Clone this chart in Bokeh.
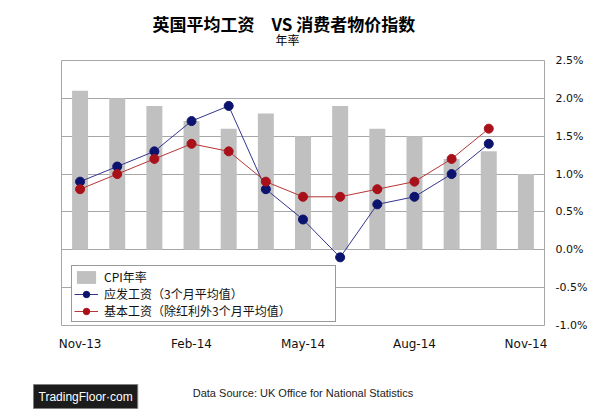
from bokeh.plotting import figure
from bokeh.models import (ColumnDataSource, Legend, LegendItem, FixedTicker,
                          PrintfTickFormatter, Range1d, Title)
from bokeh.embed import file_html
from bokeh.resources import INLINE

# ---- data ----
months = ["Nov-13", "Dec-13", "Jan-14", "Feb-14", "Mar-14", "Apr-14", "May-14",
          "Jun-14", "Jul-14", "Aug-14", "Sep-14", "Oct-14", "Nov-14"]
cpi = [2.1, 2.0, 1.9, 1.7, 1.6, 1.8, 1.5, 1.9, 1.6, 1.5, 1.2, 1.3, 1.0]
total_pay = [0.9, 1.1, 1.3, 1.7, 1.9, 0.8, 0.4, -0.1, 0.6, 0.7, 1.0, 1.4]
regular_pay = [0.8, 1.0, 1.2, 1.4, 1.3, 0.9, 0.7, 0.7, 0.8, 0.9, 1.2, 1.6]
x_tick_labels = ["Nov-13", "Feb-14", "May-14", "Aug-14", "Nov-14"]
y_ticks = [-1.0, -0.5, 0.0, 0.5, 1.0, 1.5, 2.0, 2.5]

title_text = "英国平均工资\u3000VS 消费者物价指数"
subtitle_text = "年率"
source_text = "Data Source: UK Office for National Statistics"
logo_text = "TradingFloor·com"
legend_labels = ["CPI年率", "应发工资（3个月平均值）", "基本工资（除红利外3个月平均值）"]

# ---- sources ----
xpos = [i + 0.5 for i in range(len(months))]
bar_src = ColumnDataSource(dict(x=xpos, top=cpi, month=months))
tot_src = ColumnDataSource(dict(x=xpos[:len(total_pay)], y=total_pay))
reg_src = ColumnDataSource(dict(x=xpos[:len(regular_pay)], y=regular_pay))

p = figure(width=600, height=412, output_backend="svg", toolbar_location=None,
           x_range=Range1d(0, len(months)), y_range=Range1d(y_ticks[0], y_ticks[-1]),
           y_axis_location="right",
           min_border_left=61, min_border_right=56, min_border_top=60,
           min_border_bottom=87)
p.background_fill_color = "white"
p.border_fill_color = "white"
p.outline_line_color = "#a6a6a6"
p.outline_line_width = 1

bars = p.vbar(x="x", top="top", bottom=0, width=0.43, source=bar_src,
              fill_color="#c0c0c0", line_color=None)

blue_line = p.line("x", "y", source=tot_src, line_color="#353590", line_width=1)
blue_pts = p.scatter("x", "y", source=tot_src, size=9, fill_color="#0c136e",
                     line_color="#0c136e")
red_line = p.line("x", "y", source=reg_src, line_color="#b83535", line_width=1)
red_pts = p.scatter("x", "y", source=reg_src, size=9, fill_color="#a8111a",
                    line_color="#a8111a")

# grid
p.xgrid.grid_line_color = None
p.ygrid.ticker = FixedTicker(ticks=y_ticks)
p.ygrid.grid_line_color = "#a6a6a6"
p.ygrid.grid_line_width = 1

# y axis (right)
ya = p.yaxis[0]
ya.ticker = FixedTicker(ticks=y_ticks)
ya.formatter = PrintfTickFormatter(format="%.1f%%")
ya.axis_line_color = None
ya.major_tick_line_color = None
ya.minor_tick_line_color = None
ya.major_tick_out = 0
ya.major_label_standoff = 11
ya.major_label_text_font = "DejaVu Sans"
ya.major_label_text_font_size = "11px"
ya.major_label_text_color = "#111111"

# x axis (its axis label carries the data-source note)
tick_idx = [months.index(m) for m in x_tick_labels]
tick_pos = [xpos[i] for i in tick_idx]
xa = p.xaxis[0]
xa.ticker = FixedTicker(ticks=tick_pos)
xa.major_label_overrides = {xpos[i]: months[i] for i in tick_idx}
xa.axis_line_color = None
xa.major_tick_line_color = None
xa.minor_tick_line_color = None
xa.major_tick_out = 0
xa.major_label_standoff = 11
xa.major_label_text_font = "DejaVu Sans"
xa.major_label_text_font_size = "12px"
xa.major_label_text_color = "#111111"
xa.axis_label = source_text
xa.axis_label_standoff = 33
xa.axis_label_text_font = "Liberation Sans"
xa.axis_label_text_font_size = "11px"
xa.axis_label_text_font_style = "normal"
xa.axis_label_text_color = "#222222"

# legend
legend = Legend(items=[
    LegendItem(label=legend_labels[0], renderers=[bars]),
    LegendItem(label=legend_labels[1], renderers=[blue_line, blue_pts]),
    LegendItem(label=legend_labels[2], renderers=[red_line, red_pts]),
], location=(10, 3))
legend.label_text_font = "Noto Sans CJK SC"
legend.label_text_font_size = "12px"
legend.label_text_color = "#111111"
legend.padding = 2
legend.spacing = 0
legend.margin = 0
legend.glyph_width = 24
legend.glyph_height = 16
legend.label_height = 16
legend.label_standoff = 6
legend.label_width = 229
legend.border_line_color = "#333333"
legend.border_line_width = 1
legend.background_fill_color = "white"
legend.background_fill_alpha = 1
p.add_layout(legend, "center")

# titles above the frame (first added sits nearest the frame)
p.add_layout(Title(text=subtitle_text, align="left", offset=214,
                   text_font="Noto Sans CJK SC", text_font_size="12px",
                   text_font_style="normal", text_color="black",
                   standoff=25), "above")
p.add_layout(Title(text=title_text, align="left", offset=91,
                   text_font="Noto Sans CJK SC", text_font_size="17px",
                   text_font_style="bold", text_color="black",
                   standoff=-39), "above")

# logo badge below
p.add_layout(Title(text=logo_text, align="left", offset=-28,
                   vertical_align="top",
                   text_font="Liberation Sans", text_font_size="12px",
                   text_font_style="normal", text_color="white",
                   background_fill_color="#1c1c1c", border_line_color="#808080",
                   padding=5, standoff=-34), "below")

open("out.html", "w").write(file_html(p, INLINE))
